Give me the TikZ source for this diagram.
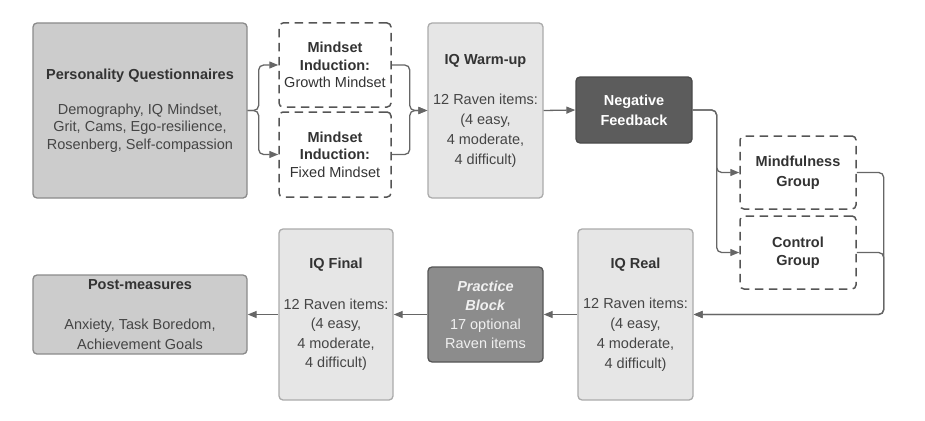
\documentclass[tikz,border=0pt]{standalone}
\usepackage{fontspec}
\setmainfont{Liberation Sans}
\usetikzlibrary{arrows.meta}
\definecolor{midfill}{HTML}{CCCCCC}
\definecolor{midborder}{HTML}{8A8A8A}
\definecolor{lightfill}{HTML}{E6E6E6}
\definecolor{lightborder}{HTML}{ABABAB}
\definecolor{darkfill}{HTML}{5C5C5C}
\definecolor{darkborder}{HTML}{4A4A4A}
\definecolor{pracfill}{HTML}{8C8C8C}
\definecolor{pracborder}{HTML}{555555}
\definecolor{dashcol}{HTML}{555555}
\definecolor{linecol}{HTML}{666666}
\definecolor{titlecol}{HTML}{333333}
\definecolor{bodycol}{HTML}{454545}
\begin{document}
\begin{tikzpicture}[x=1pt,y=-1pt,
  base/.style={rounded corners=4pt, line width=1.3pt, inner sep=0pt, align=center,
    font=\fontsize{14.5}{17.5}\selectfont},
  midbox/.style={base, fill=midfill, draw=midborder, text=bodycol},
  lightbox/.style={base, fill=lightfill, draw=lightborder, text=bodycol},
  dashbox/.style={base, line width=1.5pt, fill=white, draw=dashcol, dash pattern=on 8.5pt off 5.5pt, text=titlecol},
  darkbox/.style={base, fill=darkfill, draw=darkborder, text=white},
  pracbox/.style={base, fill=pracfill, draw=pracborder, text=white!94!black},
  spaced/.style={font=\fontsize{14.5}{20}\selectfont},
  conn/.style={draw=linecol, line width=1.3pt, -{Triangle[length=9pt,width=7pt]}, rounded corners=5pt}
]
\useasboundingbox (0,0) rectangle (925,420);

% top row
\node[midbox, minimum width=214pt, minimum height=175pt] (pq) at (140,110.5)
  {\textbf{\color{titlecol}Personality Questionnaires}\\[17.5pt]Demography, IQ Mindset,\\Grit, Cams, Ego-resilience,\\Rosenberg, Self-compassion};
\node[dashbox, minimum width=112pt, minimum height=84pt] (grow) at (335,65)
  {\textbf{Mindset}\\\textbf{Induction:}\\Growth Mindset};
\node[dashbox, minimum width=112pt, minimum height=85pt] (fixed) at (335,154.5)
  {\textbf{Mindset}\\\textbf{Induction:}\\Fixed Mindset};
\node[lightbox, spaced, minimum width=115pt, minimum height=175pt] (warm) at (485.5,110.5)
  {\textbf{\color{titlecol}IQ Warm-up}\\[20pt]12 Raven items:\\(4 easy,\\4 moderate,\\4 difficult)};
\node[darkbox, spaced, minimum width=116pt, minimum height=66pt] (nf) at (634,110)
  {\textbf{Negative}\\\textbf{Feedback}};
\node[dashbox, font=\fontsize{14.5}{19.5}\selectfont, minimum width=116pt, minimum height=73pt] (mind) at (798,172.5)
  {\textbf{Mindfulness}\\\textbf{Group}};
\node[dashbox, font=\fontsize{14.5}{18.5}\selectfont, minimum width=116pt, minimum height=73pt] (ctrl) at (798,252.5)
  {\textbf{Control}\\\textbf{Group}};

% bottom row
\node[lightbox, spaced, minimum width=115pt, minimum height=171pt] (real) at (635.5,314.5)
  {\textbf{\color{titlecol}IQ Real}\\[20pt]12 Raven items:\\(4 easy,\\4 moderate,\\4 difficult)};
\node[pracbox, font=\fontsize{14.5}{19}\selectfont, minimum width=115pt, minimum height=95pt] (prac) at (485.5,314.5)
  {\textbf{\textit{Practice}}\\\textbf{\textit{Block}}\\17 optional\\Raven items};
\node[lightbox, font=\fontsize{14.5}{19.5}\selectfont, minimum width=114pt, minimum height=171pt] (final) at (336,314.5)
  {\textbf{\color{titlecol}IQ Final}\\[21pt]12 Raven items:\\(4 easy,\\4 moderate,\\4 difficult)};
\node[midbox, font=\fontsize{14.5}{19.5}\selectfont, minimum width=214pt, minimum height=79pt] (post) at (140,314.5)
  {\textbf{\color{titlecol}Post-measures}\\[21pt]Anxiety, Task Boredom,\\Achievement Goals};

% connectors
\draw[conn] (pq.east) -- ++(11,0) |- (grow.west);
\draw[conn] (pq.east) -- ++(11,0) |- (fixed.west);
\draw[conn] (grow.east) -- ++(18,0) |- (warm.west);
\draw[conn] (fixed.east) -- ++(18,0) |- (warm.west);
\draw[conn] (warm.east) -- (nf.west);
\draw[conn] (nf.east) -- ++(24,0) |- (mind.west);
\draw[conn] (nf.east) -- ++(24,0) |- (ctrl.west);
\draw[conn] (mind.east) -- ++(27,0) |- (real.east);
\draw[conn] (ctrl.east) -- ++(27,0) |- (real.east);
\draw[conn] (real.west) -- (prac.east);
\draw[conn] (prac.west) -- (final.east);
\draw[conn] (final.west) -- (post.east);
\end{tikzpicture}
\end{document}
